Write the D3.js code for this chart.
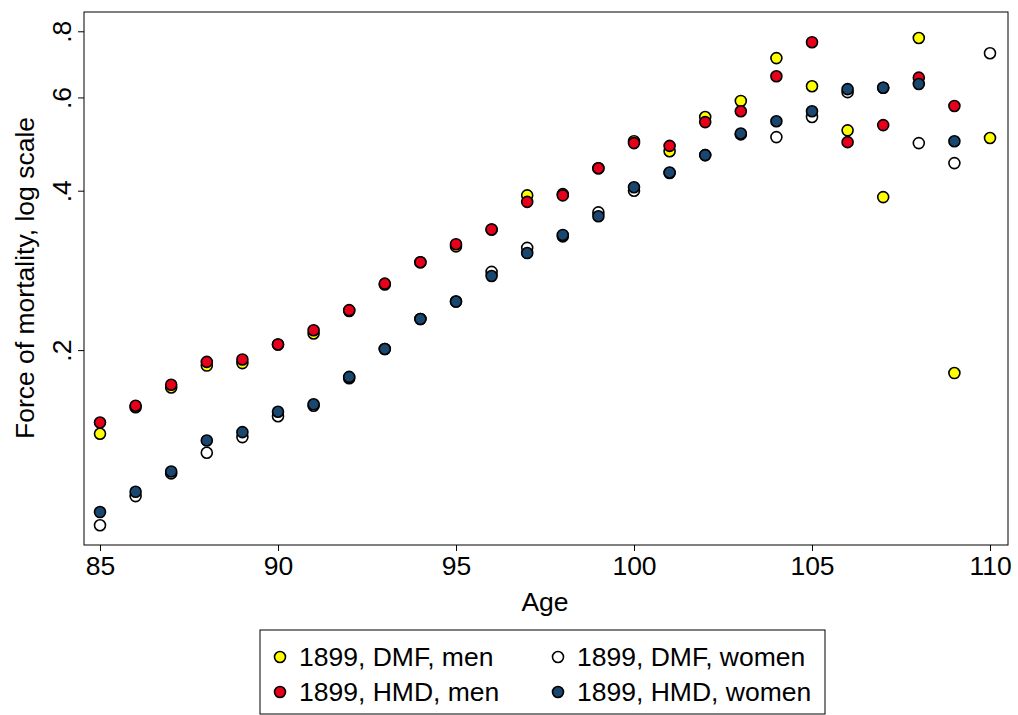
<!DOCTYPE html>
<html><head><meta charset="utf-8">
<script src="https://cdn.jsdelivr.net/npm/d3@7"></script>
<style>body{margin:0;background:#fff}text{font-family:Arial,"Liberation Sans",sans-serif}</style>
</head><body><svg id="c" width="1018" height="715"></svg>
<script>
const ages = d3.range(85, 111);
const dmfMen = [.139,.156,.170,.187,.189,.205,.215,.237,.266,.293,.314,.338,.392,.394,.441,.496,.475,.551,.591,.712,.630,.520,.389,.777,.181,.503];
const hmdMen = [.146,.157,.172,.190,.192,.205,.218,.238,.267,.293,.317,.338,.381,.392,.441,.492,.486,.539,.565,.658,.763,.494,.532,.654,.578,null];
const dmfWomen = [.0934,.106,.117,.128,.137,.150,.157,.177,.201,.229,.247,.281,.312,.328,.364,.400,.432,.467,.511,.505,.551,.614,.626,.492,.451,.727];
const hmdWomen = [.0989,.108,.118,.135,.140,.153,.158,.178,.201,.229,.247,.276,.305,.330,.358,.406,.433,.467,.513,.541,.565,.622,.626,.636,.496,null];
const xTicks = [85,90,95,100,105,110];
const yTicks = [.2,.4,.6,.8];
const yTickLabels = [".2",".4",".6",".8"];
const series = [
  {name:"1899, DMF, men", data:dmfMen, color:"#ffff00"},
  {name:"1899, HMD, men", data:hmdMen, color:"#e8001a"},
  {name:"1899, DMF, women", data:dmfWomen, color:"#ffffff"},
  {name:"1899, HMD, women", data:hmdWomen, color:"#1a476f"}
];
const FS = 26.5;
const svg = d3.select("#c");
const L=84,R=1008,T=12,B=545;
const x = d3.scaleLinear().domain([85,110]).range([100,990]);
const y = d3.scaleLog().domain([0.0857,0.87]).range([B,T]);
svg.append("rect").attr("x",L).attr("y",T).attr("width",R-L).attr("height",B-T).attr("fill","none").attr("stroke","#000");
const xa = svg.append("g").attr("transform",`translate(0,${B})`).call(d3.axisBottom(x).tickValues(xTicks).tickSize(6).tickFormat(d3.format("d")));
xa.select(".domain").remove();
xa.attr("font-size",null).attr("font-family",null);
xa.selectAll("text").attr("fill","#000").attr("y",11).style("font-size",FS+"px");
const ya = svg.append("g").attr("transform",`translate(${L},0)`).call(d3.axisLeft(y).tickValues(yTicks).tickSize(6).tickFormat((d,i)=>yTickLabels[i]));
ya.select(".domain").remove();
ya.attr("font-size",null).attr("font-family",null);
ya.selectAll(".tick text").attr("fill","#000").attr("transform","rotate(-90)").attr("x",0).attr("y",-13).attr("dy","0").attr("text-anchor","middle").style("font-size",FS+"px");
svg.append("text").attr("x",545).attr("y",611).attr("text-anchor","middle").style("font-size",FS+"px").text("Age");
svg.append("text").attr("transform","translate(34,278) rotate(-90)").attr("text-anchor","middle").style("font-size",FS+"px").text("Force of mortality, log scale");
series.forEach(s=>{
  svg.append("g").selectAll("circle").data(ages.map((a,i)=>({a,v:s.data[i]})).filter(d=>d.v!=null))
    .join("circle").attr("cx",d=>x(d.a)).attr("cy",d=>y(d.v)).attr("r",5.5)
    .attr("fill",s.color).attr("stroke","#000").attr("stroke-width",1.6);
});
const lg = svg.append("g");
lg.append("rect").attr("x",260).attr("y",630).attr("width",565).attr("height",84).attr("fill","none").attr("stroke","#000");
series.forEach((s,i)=>{
  const col = (i===0||i===1)?280:558;
  const row = (i===0||i===2)?657:692;
  lg.append("circle").attr("cx",col).attr("cy",row).attr("r",5.5).attr("fill",s.color).attr("stroke","#000").attr("stroke-width",1.6);
  lg.append("text").attr("x",col+19).attr("y",row+9).style("font-size",FS+"px").text(s.name);
});
</script></body></html>
